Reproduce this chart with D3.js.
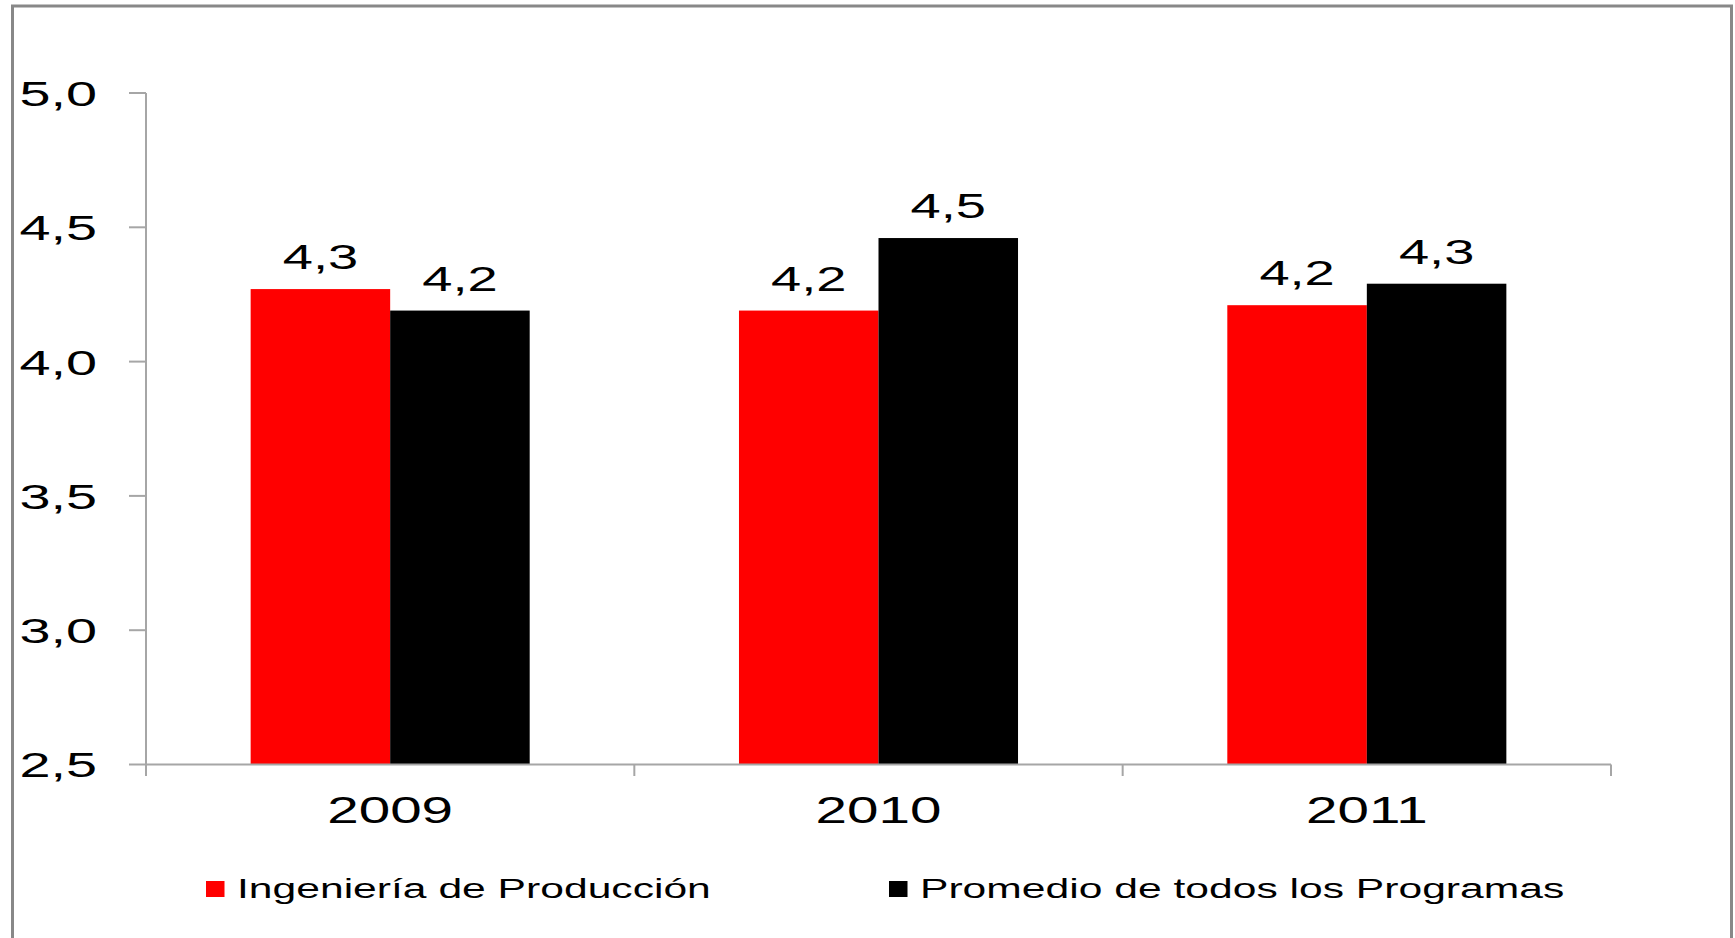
<!DOCTYPE html>
<html>
<head>
<meta charset="utf-8">
<script src="https://cdn.jsdelivr.net/npm/d3@7"></script>
<style>
  body { margin: 0; background: #fff; }
  svg { display: block; font-family: "Liberation Sans", Arial, sans-serif; }
</style>
</head>
<body>
<svg id="chart" width="1735" height="938"></svg>
<script>
const years = ['2009', '2010', '2011'];
const seriesNames = ['Ingeniería de Producción', 'Promedio de todos los Programas'];
const ingenieria = [4.27, 4.19, 4.21];
const promedio = [4.19, 4.46, 4.29];
const yTicks = [2.5, 3.0, 3.5, 4.0, 4.5, 5.0];
const colors = ['#ff0000', '#000000'];

const svg = d3.select('#chart');
const SX = 1.55; // text in the source is stretched horizontally
const axisColor = '#a6a6a6';
const fmt = v => d3.format('.1f')(v).replace('.', ',');

// frame
svg.append('rect')
  .attr('x', 12.5).attr('y', 6)
  .attr('width', 1719).attr('height', 960)
  .attr('fill', 'none').attr('stroke', '#888').attr('stroke-width', 3);

const plot = {left: 146, right: 1611, top: 93, bottom: 764.5};

const y = d3.scaleLinear().domain([2.5, 5.0]).range([plot.bottom, plot.top]);
const x = d3.scaleBand().domain(years).range([plot.left, plot.right]).padding(0);
const bw = x.bandwidth();
const xs = d3.scaleBand().domain(seriesNames)
  .range([bw * 0.375 / 1.75, bw * 1.375 / 1.75]).padding(0);

const rows = years.map((yr, i) => ({year: yr, vals: [ingenieria[i], promedio[i]]}));

// bars
const groups = svg.append('g').selectAll('g')
  .data(rows).join('g')
  .attr('transform', d => `translate(${x(d.year)},0)`);

groups.selectAll('rect')
  .data(d => d.vals.map((v, k) => ({v, k})))
  .join('rect')
  .attr('x', d => xs(seriesNames[d.k]))
  .attr('y', d => y(d.v))
  .attr('width', xs.bandwidth())
  .attr('height', d => plot.bottom - y(d.v))
  .attr('fill', d => colors[d.k]);

// data labels
groups.selectAll('text')
  .data(d => d.vals.map((v, k) => ({v, k})))
  .join('text')
  .attr('transform', d => `translate(${xs(seriesNames[d.k]) + xs.bandwidth() / 2},${y(d.v) - 20}) scale(${SX},1)`)
  .attr('text-anchor', 'middle')
  .style('font-size', '35px')
  .attr('fill', '#000')
  .text(d => fmt(d.v));

// y axis
const yAxis = svg.append('g');
yAxis.append('line')
  .attr('x1', plot.left).attr('x2', plot.left)
  .attr('y1', plot.top).attr('y2', plot.bottom + 11.5)
  .attr('stroke', axisColor).attr('stroke-width', 2);
yAxis.selectAll('line.tick')
  .data(yTicks).join('line').attr('class', 'tick')
  .attr('x1', plot.left - 17).attr('x2', plot.left)
  .attr('y1', d => y(d)).attr('y2', d => y(d))
  .attr('stroke', axisColor).attr('stroke-width', 2);
yAxis.selectAll('text')
  .data(yTicks).join('text')
  .attr('transform', d => `translate(97,${y(d)}) scale(${SX},1)`)
  .attr('text-anchor', 'end')
  .attr('dy', '0.36em')
  .style('font-size', '36px')
  .text(d => fmt(d));

// x axis
const xAxis = svg.append('g');
xAxis.append('line')
  .attr('x1', plot.left).attr('x2', plot.right)
  .attr('y1', plot.bottom).attr('y2', plot.bottom)
  .attr('stroke', axisColor).attr('stroke-width', 2);
const edges = years.map(d => x(d)).concat([plot.right]);
xAxis.selectAll('line.tick')
  .data(edges).join('line').attr('class', 'tick')
  .attr('x1', d => d).attr('x2', d => d)
  .attr('y1', plot.bottom).attr('y2', plot.bottom + 11.5)
  .attr('stroke', axisColor).attr('stroke-width', 2);
xAxis.selectAll('text')
  .data(years).join('text')
  .attr('transform', d => `translate(${x(d) + bw / 2},822.5) scale(${SX},1)`)
  .attr('text-anchor', 'middle')
  .style('font-size', '36.5px')
  .text(d => d);

// legend
const legendX = [206, 889];
const legend = svg.append('g').selectAll('g')
  .data(seriesNames).join('g')
  .attr('transform', (d, i) => `translate(${legendX[i]},0)`);
legend.append('rect')
  .attr('x', 0).attr('y', 881)
  .attr('width', 18.5).attr('height', 16)
  .attr('fill', (d, i) => colors[i]);
legend.append('text')
  .attr('transform', `translate(31,898) scale(${SX},1)`)
  .style('font-size', '27.5px')
  .text(d => d);
</script>
</body>
</html>
